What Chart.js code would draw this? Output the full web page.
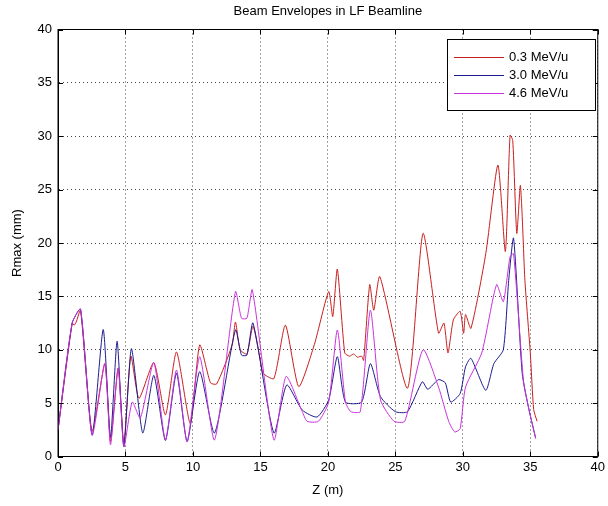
<!DOCTYPE html>
<html>
<head>
<meta charset="utf-8">
<script src="https://cdn.jsdelivr.net/npm/chart.js@4"></script>
<style>
  html, body { margin: 0; padding: 0; background: #fff; }
  #wrap { width: 608px; height: 506px; }
</style>
</head>
<body>
<div id="wrap"><canvas id="envChart" width="608" height="506"></canvas></div>
<script>
// Z positions (m) and Rmax (mm), one pair of arrays per energy
const zRed = [0, 1.05, 1.2, 1.35, 1.67, 2.53, 3.47, 3.89, 4.46, 4.88, 5.4, 6.0, 7.1, 7.96, 8.78, 9.8, 10.5, 11.3, 11.76, 12.9,
    13.15, 13.5, 14.0, 14.45, 15.0, 15.2, 16.0, 16.85, 17.84, 19.0, 20.06, 20.36, 20.7, 21.25, 21.6, 21.9, 22.2, 22.5, 22.65, 23.1,
    23.4, 23.85, 25.9, 27.05, 28.2, 28.6, 28.9, 29.3, 29.8, 30.06, 30.2, 30.6, 31.7, 32.6, 33.15, 33.5, 33.7, 34.0, 34.26, 34.4,
    34.6, 35.0, 35.25, 35.5];
const rRed = [2.5, 12.5, 12.3, 12.6, 13.7, 2.4, 8.7, 1.4, 8.3, 1.2, 9.4, 5.45, 8.8, 3.9, 9.8, 3.1, 10.45, 6.9, 6.8, 10.45,
    12.6, 10.0, 9.6, 12.2, 9.0, 7.8, 7.3, 12.3, 6.55, 10.5, 15.45, 13.1, 17.55, 9.7, 9.4, 9.6, 9.3, 9.4, 9.0, 16.1,
    13.7, 16.85, 6.4, 20.9, 11.55, 12.5, 9.7, 12.8, 13.6, 11.55, 13.3, 12.0, 19.0, 27.3, 19.2, 30.1, 29.6, 20.9, 25.4, 22.5,
    16.5, 9.7, 4.4, 3.3];

const zBlue = [0, 1.05, 1.67, 2.53, 3.35, 3.89, 4.38, 4.88, 5.44, 6.28, 7.1, 7.96, 8.78, 9.57, 10.5, 11.6, 13.15, 13.6, 14.0, 14.45,
    16.0, 16.95, 18.1, 19.2, 20.06, 20.7, 21.3, 22.5, 23.15, 23.9, 25.0, 25.9, 27.0, 27.4, 28.2, 28.7, 29.1, 29.8, 30.2, 30.6,
    31.7, 32.3, 33.0, 33.4, 33.76, 34.4, 34.9, 35.4];
const rBlue = [2.5, 12.5, 13.8, 2.0, 11.9, 1.8, 10.8, 0.9, 10.1, 2.2, 7.6, 1.5, 7.8, 1.4, 7.95, 2.2, 11.85, 9.5, 9.5, 12.5,
    2.2, 6.7, 4.35, 3.7, 5.3, 9.35, 5.1, 5.1, 8.7, 5.6, 4.2, 4.2, 7.0, 6.3, 7.2, 6.9, 5.1, 5.9, 8.4, 9.2,
    6.2, 8.7, 10.0, 16.5, 20.45, 7.8, 4.4, 1.7];

const zMag = [0, 1.05, 1.67, 2.53, 3.47, 3.89, 4.46, 4.88, 5.5, 6.1, 7.1, 7.96, 8.78, 9.57, 10.5, 11.6, 13.15, 13.6, 14.0, 14.4,
    16.0, 16.9, 18.1, 18.46, 19.3, 20.06, 20.7, 21.3, 21.7, 22.4, 23.15, 23.9, 24.9, 25.7, 27.05, 28.2, 28.95, 29.4, 29.8, 30.2,
    31.4, 32.5, 33.0, 33.5, 33.76, 34.5, 34.9, 35.4];
const rMag = [2.5, 12.5, 13.8, 2.0, 8.7, 1.1, 8.3, 0.9, 5.1, 3.6, 8.8, 1.55, 8.1, 1.4, 9.35, 1.55, 15.45, 12.95, 12.95, 15.6,
    1.55, 7.5, 4.2, 3.3, 3.3, 5.1, 11.85, 5.1, 4.2, 4.2, 13.7, 5.3, 3.3, 3.3, 10.0, 6.5, 3.3, 2.3, 2.6, 6.5,
    9.7, 16.1, 14.5, 18.7, 19.0, 7.0, 4.4, 1.7];

const seriesLabels = ['0.3 MeV/u', '3.0 MeV/u', '4.6 MeV/u'];
const seriesColors = ['#c81e1e', '#1c1c8e', '#c832dc'];
const axisTicks = [0, 5, 10, 15, 20, 25, 30, 35, 40];

function toPoints(zs, rs) {
    return zs.map((z, i) => ({ x: z, y: rs[i] }));
}

// MATLAB style box: solid frame on all four sides, ticks pointing inwards
const boxPlugin = {
    id: 'matlabBox',
    afterDraw(chart) {
        const { ctx, chartArea: { left, right, top, bottom }, scales } = chart;
        ctx.save();
        ctx.strokeStyle = '#000';
        ctx.lineWidth = 1;
        ctx.strokeRect(left, top, right - left, bottom - top);
        ctx.beginPath();
        scales.x.ticks.forEach(t => {
            const px = Math.round(scales.x.getPixelForValue(t.value)) + 0.5;
            ctx.moveTo(px, bottom); ctx.lineTo(px, bottom - 5);
            ctx.moveTo(px, top); ctx.lineTo(px, top + 5);
        });
        scales.y.ticks.forEach(t => {
            const py = Math.round(scales.y.getPixelForValue(t.value)) + 0.5;
            ctx.moveTo(left, py); ctx.lineTo(left + 5, py);
            ctx.moveTo(right, py); ctx.lineTo(right - 5, py);
        });
        ctx.stroke();

        // legend box in the upper right corner
        const bx = 447, by = 39, bw = 148, bh = 71;
        ctx.fillStyle = '#fff';
        ctx.fillRect(bx, by, bw, bh);
        ctx.strokeRect(bx + 0.5, by + 0.5, bw, bh);
        ctx.font = '13px "Liberation Sans", Arial, sans-serif';
        ctx.textBaseline = 'middle';
        ctx.textAlign = 'left';
        chart.data.datasets.forEach((ds, i) => {
            const y = by + 18 + i * 18;
            ctx.strokeStyle = ds.borderColor;
            ctx.beginPath();
            ctx.moveTo(bx + 7, y + 0.5);
            ctx.lineTo(bx + 57, y + 0.5);
            ctx.stroke();
            ctx.fillStyle = '#000';
            ctx.fillText(ds.label, bx + 62, y);
        });
        ctx.restore();
    }
};

Chart.defaults.font.family = '"Liberation Sans", Arial, sans-serif';
Chart.defaults.font.size = 13;
Chart.defaults.color = '#000';

const ctx = document.getElementById('envChart').getContext('2d');
const envChart = new Chart(ctx, {
    type: 'line',
    data: {
        datasets: [
            { label: seriesLabels[0], data: toPoints(zRed, rRed), borderColor: seriesColors[0], order: 3 },
            { label: seriesLabels[1], data: toPoints(zBlue, rBlue), borderColor: seriesColors[1], order: 2 },
            { label: seriesLabels[2], data: toPoints(zMag, rMag), borderColor: seriesColors[2], order: 1 }
        ]
    },
    options: {
        responsive: false,
        animation: false,
        devicePixelRatio: 1,
        layout: { padding: { left: 0, right: 8.5, top: 0, bottom: 0 } },
        elements: {
            line: { borderWidth: 1, fill: false, tension: 0.2 },
            point: { radius: 0 }
        },
        scales: {
            x: {
                type: 'linear',
                min: 0, max: 40,
                afterBuildTicks: s => { s.ticks = axisTicks.map(v => ({ value: v })); },
                afterFit: s => { s.height = 49.5; },
                ticks: { padding: 3, maxRotation: 0 },
                grid: { color: '#444', lineWidth: 1, drawTicks: false },
                border: { color: '#000', dash: [1, 3] },
                title: { display: true, text: 'Z (m)', padding: { top: 0, bottom: 8 } }
            },
            // top axis only carries the plot title so it is centred over the plot box
            xTop: {
                type: 'linear',
                position: 'top',
                min: 0, max: 40,
                afterFit: s => { s.height = 29.5; },
                ticks: { display: false },
                grid: { display: false, drawTicks: false },
                border: { display: false },
                title: { display: true, text: 'Beam Envelopes in LF Beamline', padding: { top: 4, bottom: 0 } }
            },
            y: {
                type: 'linear',
                min: 0, max: 40,
                afterBuildTicks: s => { s.ticks = axisTicks.map(v => ({ value: v })); },
                afterFit: s => { s.width = 58; },
                ticks: { padding: 6 },
                grid: { color: '#444', lineWidth: 1, drawTicks: false },
                border: { color: '#000', dash: [1, 3] },
                title: { display: true, text: 'Rmax (mm)', padding: { top: 10, bottom: 0 } }
            }
        },
        plugins: {
            legend: { display: false },
            tooltip: { enabled: false },
            title: { display: false }
        }
    },
    plugins: [boxPlugin]
});
</script>
</body>
</html>
